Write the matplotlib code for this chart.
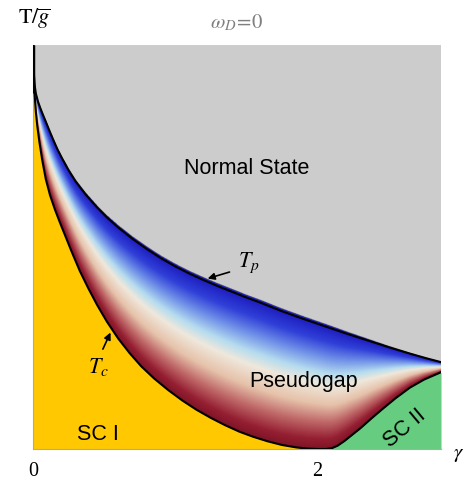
import numpy as np
import matplotlib
matplotlib.use("Agg")
import matplotlib.pyplot as plt
from matplotlib.colors import LinearSegmentedColormap

# ---- data ----
tp_gamma = [0.002, 0.004, 0.007, 0.012, 0.02, 0.035, 0.05, 0.07, 0.09, 0.115, 0.14, 0.17,
            0.2, 0.25, 0.3, 0.37, 0.45, 0.52, 0.6, 0.7, 0.8, 0.9, 1.0, 1.1, 1.2, 1.3,
            1.4, 1.5, 1.6, 1.75, 1.9, 2.05, 2.2, 2.35, 2.5, 2.65, 2.76, 2.868]
tp_T = [1.00, 0.96, 0.925, 0.90, 0.88, 0.86, 0.845, 0.827, 0.81, 0.788, 0.767, 0.743,
        0.722, 0.69, 0.662, 0.63, 0.598, 0.573, 0.548, 0.52, 0.495, 0.472, 0.452, 0.434,
        0.418, 0.403, 0.389, 0.375, 0.362, 0.341, 0.322, 0.304, 0.286, 0.269, 0.252,
        0.236, 0.225, 0.215]

tc_gamma = [0.003, 0.005, 0.008, 0.012, 0.02, 0.03, 0.045, 0.065, 0.09, 0.12, 0.155, 0.19,
            0.23, 0.27, 0.33, 0.39, 0.45, 0.52, 0.6, 0.68, 0.76, 0.85, 0.95, 1.05, 1.15,
            1.25, 1.35, 1.45, 1.55, 1.65, 1.75, 1.85, 1.93, 2.0]
tc_T = [1.0, 0.94, 0.9, 0.875, 0.835, 0.8, 0.76, 0.715, 0.668, 0.628, 0.592, 0.56,
        0.525, 0.49, 0.44, 0.397, 0.357, 0.315, 0.273, 0.237, 0.205, 0.175, 0.146, 0.12,
        0.097, 0.077, 0.059, 0.043, 0.03, 0.019, 0.01, 0.004, 0.001, 0.0]

sc2_gamma = [2.0, 2.06, 2.1, 2.14, 2.19, 2.25, 2.3, 2.38, 2.46, 2.55, 2.65, 2.75, 2.868]
sc2_T = [0.0, 0.0, 0.002, 0.008, 0.02, 0.037, 0.051, 0.076, 0.1, 0.126, 0.152, 0.172, 0.19]

x_ticks = [0, 2]
x_ticklabels = ["0", "2"]

# ---- style ----
plt.rcParams['mathtext.fontset'] = 'stix'
GRAY = '#cccccc'
YELLOW = '#ffc800'
GREEN = '#66cc80'
XMAX = 2.868

cmap = LinearSegmentedColormap.from_list('pg', [
    (0.00, '#7e1426'), (0.08, '#951f32'), (0.22, '#c06a6a'), (0.36, '#e6c2aa'),
    (0.52, '#efe8dc'), (0.62, '#b5dcef'), (0.75, '#6f8fe8'), (0.88, '#3040d8'),
    (1.00, '#1e1ec0')])
cmap.set_bad((0, 0, 0, 0))

fig = plt.figure(figsize=(4.68, 4.83), dpi=100)
ax = fig.add_axes([33/468, 1-449/483, 408/468, 404/483])
ax.set_facecolor(GRAY)
ax.set_xlim(0, XMAX)
ax.set_ylim(0, 1)

# pseudogap gradient
low_g = np.array(tc_gamma + sc2_gamma[1:])
low_T = np.array(tc_T + sc2_T[1:])
gg = np.linspace(0, XMAX, 1000)
tt = np.linspace(0, 1, 1000)
G, Tm = np.meshgrid(gg, tt)
tp_i = np.interp(G, tp_gamma, tp_T)
lo_i = np.interp(G, low_g, low_T)
den = np.where(tp_i - lo_i > 1e-6, tp_i - lo_i, np.nan)
f = (Tm - lo_i) / den
f = np.where((f >= -0.02) & (f <= 1.02), np.clip(f, 0, 1), np.nan)
ax.imshow(f, extent=[0, XMAX, 0, 1], origin='lower', aspect='auto', cmap=cmap,
          vmin=0, vmax=1, interpolation='bilinear', zorder=1)

ax.fill_between(tc_gamma, 0, tc_T, color=YELLOW, lw=0, zorder=2)
ax.fill_between(sc2_gamma, 0, sc2_T, color=GREEN, lw=0, zorder=2)
ax.fill_between([0, 0.004], 0, 1, color=YELLOW, lw=0, zorder=2)

ax.plot(tp_gamma, tp_T, color='k', lw=1.5, zorder=3)
ax.plot(tc_gamma, tc_T, color='k', lw=1.5, zorder=3)
ax.plot(sc2_gamma, sc2_T, color='k', lw=1.5, zorder=3)
ax.plot([0.002, 0.002], [0.88, 1.0], color='k', lw=2.5, zorder=3, solid_capstyle='butt')

for s in ['top', 'right']:
    ax.spines[s].set_visible(False)
for s in ['left', 'bottom']:
    ax.spines[s].set_color('#aaaaaa')
    ax.spines[s].set_linewidth(0.8)

ax.set_yticks([])
ax.set_xticks(x_ticks)
ax.set_xticklabels(x_ticklabels, fontfamily='Liberation Serif', fontsize=14.5)
ax.tick_params(axis='x', length=0, pad=9)

sans = 'Liberation Sans'
ax.text(1.504, 0.681, 'Normal State', fontfamily=sans, fontsize=15.5, ha='center', va='baseline', zorder=5)
ax.text(1.902, 0.1547, 'Pseudogap', fontfamily=sans, fontsize=15.5, ha='center', va='baseline', zorder=5)
ax.text(0.453, 0.0223, 'SC I', fontfamily=sans, fontsize=15.5, ha='center', va='baseline', zorder=5)
ax.text(2.615, 0.052, 'SC II', fontfamily=sans, fontsize=15.5, ha='center', va='center', rotation=40, zorder=5)

ax.annotate('', xy=(1.209, 0.42), xytext=(1.40, 0.44),
            arrowprops=dict(arrowstyle='-|>', color='k', lw=1.2, mutation_scale=10), zorder=5)
ax.text(1.515, 0.46, r'$T_p$', fontsize=16, ha='center', va='center', zorder=5)
ax.annotate('', xy=(0.553, 0.2946), xytext=(0.483, 0.241),
            arrowprops=dict(arrowstyle='-|>', color='k', lw=1.2, mutation_scale=10), zorder=5)
ax.text(0.46, 0.203, r'$T_c$', fontsize=16, ha='center', va='center', zorder=5)

ax.text(1.042, -0.012, r'$\gamma$', transform=ax.transAxes, fontsize=15, ha='center', va='center')
fig.text(34/468, 1-19/483, r'$\mathrm{T}/\overline{g}$', fontsize=16, ha='center', va='center')
fig.text(236/468, 1-23/483, r'$\omega_D\!=\!0$', fontsize=15, ha='center', va='center', color='#808080')

fig.savefig('out.png', dpi=100)
